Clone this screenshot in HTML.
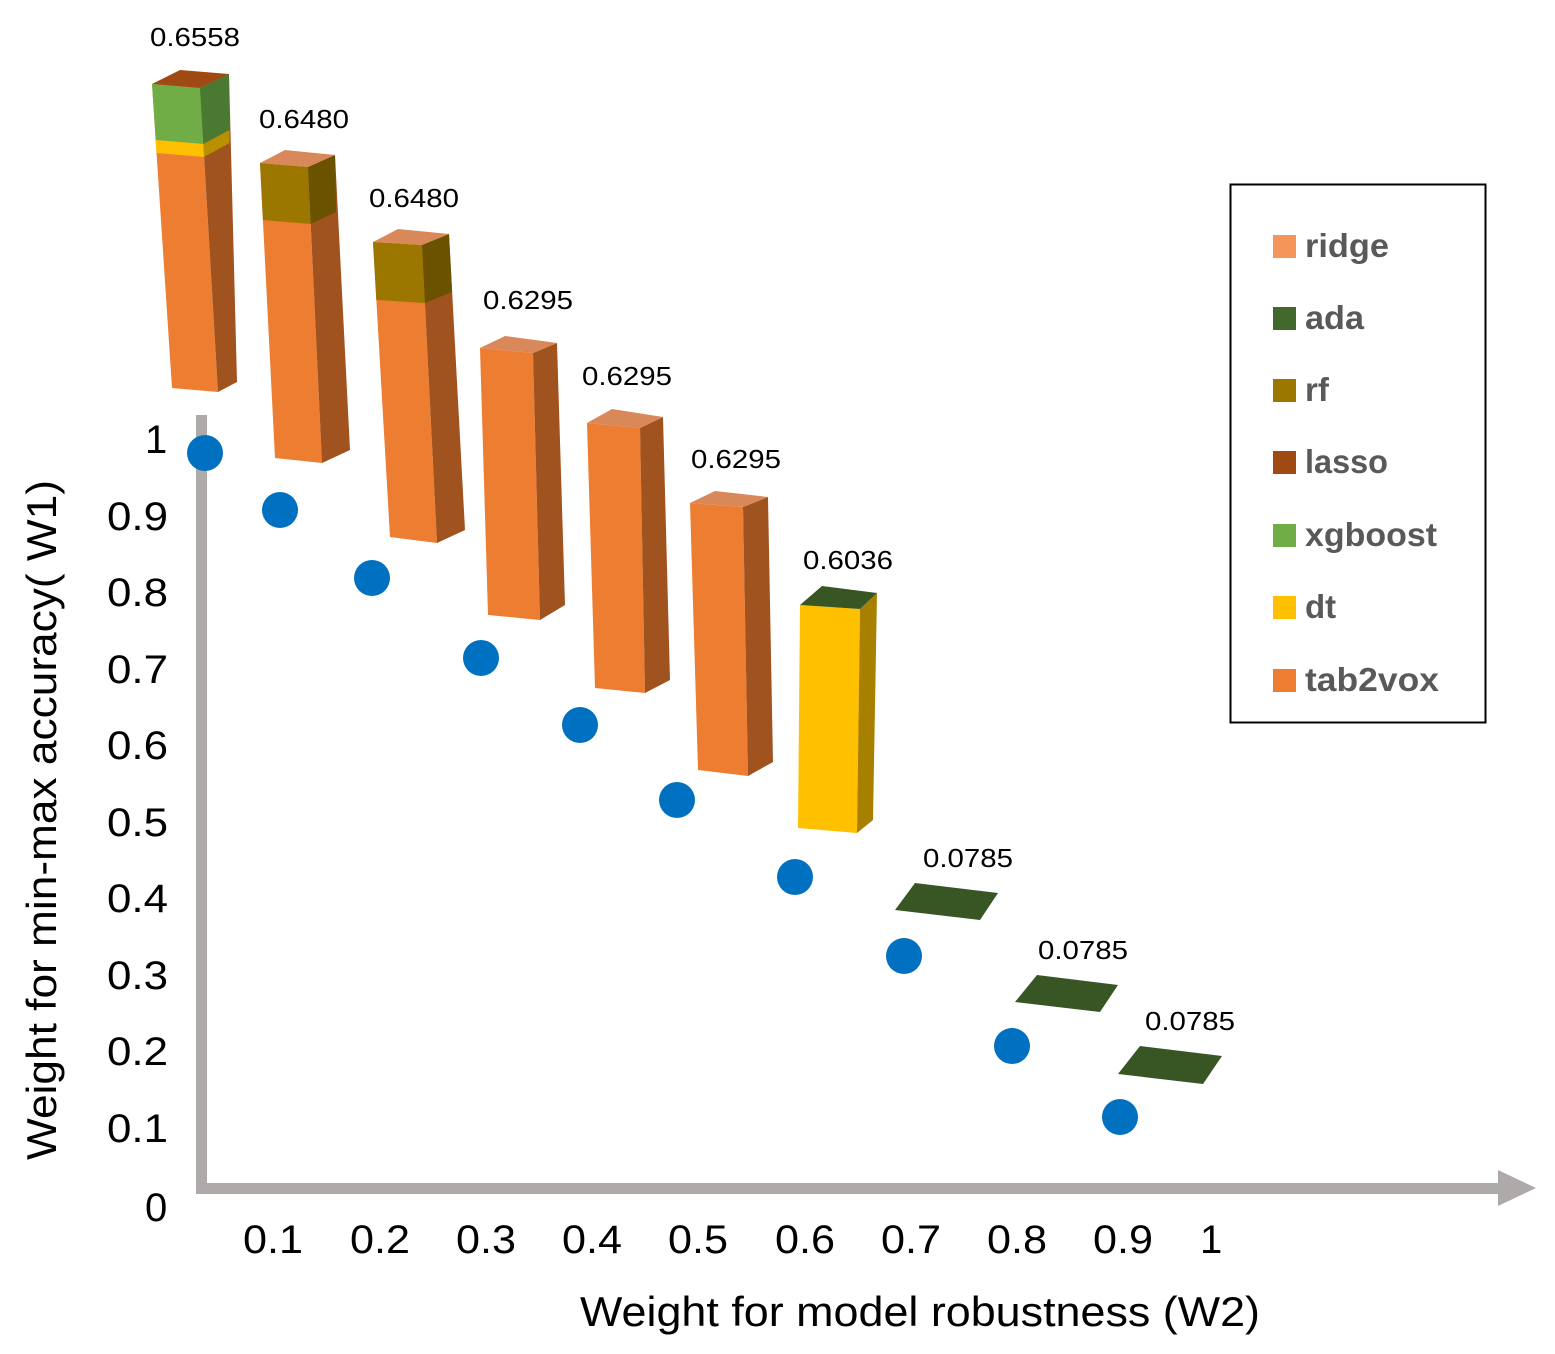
<!DOCTYPE html>
<html><head><meta charset="utf-8"><style>
html,body{margin:0;padding:0;background:#fff}
svg{display:block}
text{font-family:"Liberation Sans","DejaVu Sans",sans-serif}
</style></head><body>
<svg width="1555" height="1354" viewBox="0 0 1555 1354" xmlns="http://www.w3.org/2000/svg">
<rect x="196" y="415" width="11" height="778" fill="#aeaaaa"/>
<rect x="196" y="1183" width="1305" height="11" fill="#aeaaaa"/>
<polygon points="1498,1170 1536,1188 1498,1206" fill="#aeaaaa"/>

<polygon points="152,84 200,88 218,392 172,388" fill="#ed7d31"/>
<polygon points="200,88 229,74 237,382 218,392" fill="#a0521f"/>
<polygon points="152,84 200,88 203.3,144 155.7,140" fill="#70ad47"/>
<polygon points="155.7,140 203.3,144 204,157 156.5,153" fill="#ffc000"/>
<polygon points="200,88 229,74 229.4,130 203.3,144" fill="#4a7a32"/>
<polygon points="203.3,144 229.4,130 229.6,143 204,157" fill="#b89000"/>
<polygon points="152,84 200,88 229,74 180,70" fill="#9e4a12"/>
<polygon points="260,163 308,167 322,463 275,458" fill="#ed7d31"/>
<polygon points="308,167 335,155 350,450 322,463" fill="#a0521f"/>
<polygon points="260,163 308,167 310.7,224 262.9,220" fill="#9c7700"/>
<polygon points="308,167 335,155 336.2,212 310.7,224" fill="#6b5200"/>
<polygon points="260,163 308,167 335,155 285,150" fill="#d9885a"/>
<polygon points="373,242 422,245 437,543 390,537" fill="#ed7d31"/>
<polygon points="422,245 449,234 465,530 437,543" fill="#a0521f"/>
<polygon points="373,242 422,245 424.9,303 376.3,300" fill="#9c7700"/>
<polygon points="422,245 449,234 452.1,292 424.9,303" fill="#6b5200"/>
<polygon points="373,242 422,245 449,234 398,229" fill="#d9885a"/>
<polygon points="480,348 533,353 540,620 488,615" fill="#ed7d31"/>
<polygon points="533,353 557,343 565,605 540,620" fill="#a0521f"/>
<polygon points="480,348 533,353 557,343 505,336" fill="#d9885a"/>
<polygon points="587,423 640,428 645,693 595,688" fill="#ed7d31"/>
<polygon points="640,428 663,417 670,680 645,693" fill="#a0521f"/>
<polygon points="587,423 640,428 663,417 612,409" fill="#d9885a"/>
<polygon points="690,503 743,507 748,776 698,770" fill="#ed7d31"/>
<polygon points="743,507 768,497 773,762 748,776" fill="#a0521f"/>
<polygon points="690,503 743,507 768,497 715,491" fill="#d9885a"/>
<polygon points="800,605 860,609 857,833 798,828" fill="#ffc000"/>
<polygon points="860,609 877,593 873,820 857,833" fill="#a88000"/>
<polygon points="800,605 860,609 877,593 822,586" fill="#375623"/>
<polygon points="895,910 915,883 998,893 980,920" fill="#375623"/>
<polygon points="1015,1002 1037,975 1118,985 1100,1012" fill="#375623"/>
<polygon points="1118,1074 1140,1046 1222,1056 1203,1084" fill="#375623"/>

<g fill="#0070c0">
<circle cx="205" cy="453" r="18"/><circle cx="280" cy="510" r="18"/>
<circle cx="372" cy="578" r="18"/><circle cx="481" cy="658" r="18"/>
<circle cx="580" cy="725" r="18"/><circle cx="677" cy="800" r="18"/>
<circle cx="795" cy="877" r="18"/><circle cx="904" cy="956" r="18"/>
<circle cx="1012" cy="1046" r="18"/><circle cx="1120" cy="1117" r="18"/>
</g>

<g font-size="26" fill="#000" lengthAdjust="spacingAndGlyphs">
<text x="150" y="46" textLength="90" lengthAdjust="spacingAndGlyphs">0.6558</text>
<text x="259" y="128" textLength="90" lengthAdjust="spacingAndGlyphs">0.6480</text>
<text x="369" y="207" textLength="90" lengthAdjust="spacingAndGlyphs">0.6480</text>
<text x="483" y="309" textLength="90" lengthAdjust="spacingAndGlyphs">0.6295</text>
<text x="582" y="385" textLength="90" lengthAdjust="spacingAndGlyphs">0.6295</text>
<text x="691" y="468" textLength="90" lengthAdjust="spacingAndGlyphs">0.6295</text>
<text x="803" y="569" textLength="90" lengthAdjust="spacingAndGlyphs">0.6036</text>
<text x="923" y="867" textLength="90" lengthAdjust="spacingAndGlyphs">0.0785</text>
<text x="1038" y="959" textLength="90" lengthAdjust="spacingAndGlyphs">0.0785</text>
<text x="1145" y="1030" textLength="90" lengthAdjust="spacingAndGlyphs">0.0785</text>
</g>

<g font-size="40" fill="#000">
<text x="145" y="453">1</text>
<text x="107" y="530" textLength="61" lengthAdjust="spacingAndGlyphs">0.9</text>
<text x="107" y="606" textLength="61" lengthAdjust="spacingAndGlyphs">0.8</text>
<text x="107" y="683" textLength="61" lengthAdjust="spacingAndGlyphs">0.7</text>
<text x="107" y="759" textLength="61" lengthAdjust="spacingAndGlyphs">0.6</text>
<text x="107" y="836" textLength="61" lengthAdjust="spacingAndGlyphs">0.5</text>
<text x="107" y="912" textLength="61" lengthAdjust="spacingAndGlyphs">0.4</text>
<text x="107" y="989" textLength="61" lengthAdjust="spacingAndGlyphs">0.3</text>
<text x="107" y="1065" textLength="61" lengthAdjust="spacingAndGlyphs">0.2</text>
<text x="107" y="1142" textLength="61" lengthAdjust="spacingAndGlyphs">0.1</text>
<text x="145" y="1221">0</text>
</g>
<g font-size="40" fill="#000">
<text x="243" y="1253" textLength="60" lengthAdjust="spacingAndGlyphs">0.1</text>
<text x="350" y="1253" textLength="60" lengthAdjust="spacingAndGlyphs">0.2</text>
<text x="456" y="1253" textLength="60" lengthAdjust="spacingAndGlyphs">0.3</text>
<text x="562" y="1253" textLength="60" lengthAdjust="spacingAndGlyphs">0.4</text>
<text x="668" y="1253" textLength="60" lengthAdjust="spacingAndGlyphs">0.5</text>
<text x="775" y="1253" textLength="60" lengthAdjust="spacingAndGlyphs">0.6</text>
<text x="881" y="1253" textLength="60" lengthAdjust="spacingAndGlyphs">0.7</text>
<text x="987" y="1253" textLength="60" lengthAdjust="spacingAndGlyphs">0.8</text>
<text x="1093" y="1253" textLength="60" lengthAdjust="spacingAndGlyphs">0.9</text>
<text x="1200" y="1253">1</text>
</g>
<text x="580" y="1326" font-size="42" textLength="680" lengthAdjust="spacingAndGlyphs">Weight for model robustness (W2)</text>
<text transform="translate(56,1160) rotate(-90)" font-size="42" textLength="680" lengthAdjust="spacingAndGlyphs">Weight for min-max accuracy( W1)</text>

<rect x="1230.5" y="184.5" width="255" height="538" fill="#fff" stroke="#000" stroke-width="2"/>
<g font-size="33" font-weight="bold" fill="#595959">
<rect x="1273" y="235" width="23" height="23" fill="#f4955a"/><text x="1305" y="257" textLength="84" lengthAdjust="spacingAndGlyphs">ridge</text>
<rect x="1273" y="307" width="23" height="23" fill="#43682b"/><text x="1305" y="329" textLength="59" lengthAdjust="spacingAndGlyphs">ada</text>
<rect x="1273" y="379" width="23" height="23" fill="#9c7700"/><text x="1305" y="401">rf</text>
<rect x="1273" y="451" width="23" height="23" fill="#9e4a12"/><text x="1305" y="473" textLength="83" lengthAdjust="spacingAndGlyphs">lasso</text>
<rect x="1273" y="524" width="23" height="23" fill="#70ad47"/><text x="1305" y="546" textLength="132" lengthAdjust="spacingAndGlyphs">xgboost</text>
<rect x="1273" y="596" width="23" height="23" fill="#ffc000"/><text x="1305" y="618">dt</text>
<rect x="1273" y="669" width="23" height="23" fill="#ed7d31"/><text x="1305" y="691" textLength="134" lengthAdjust="spacingAndGlyphs">tab2vox</text>
</g>
</svg>
</body></html>
